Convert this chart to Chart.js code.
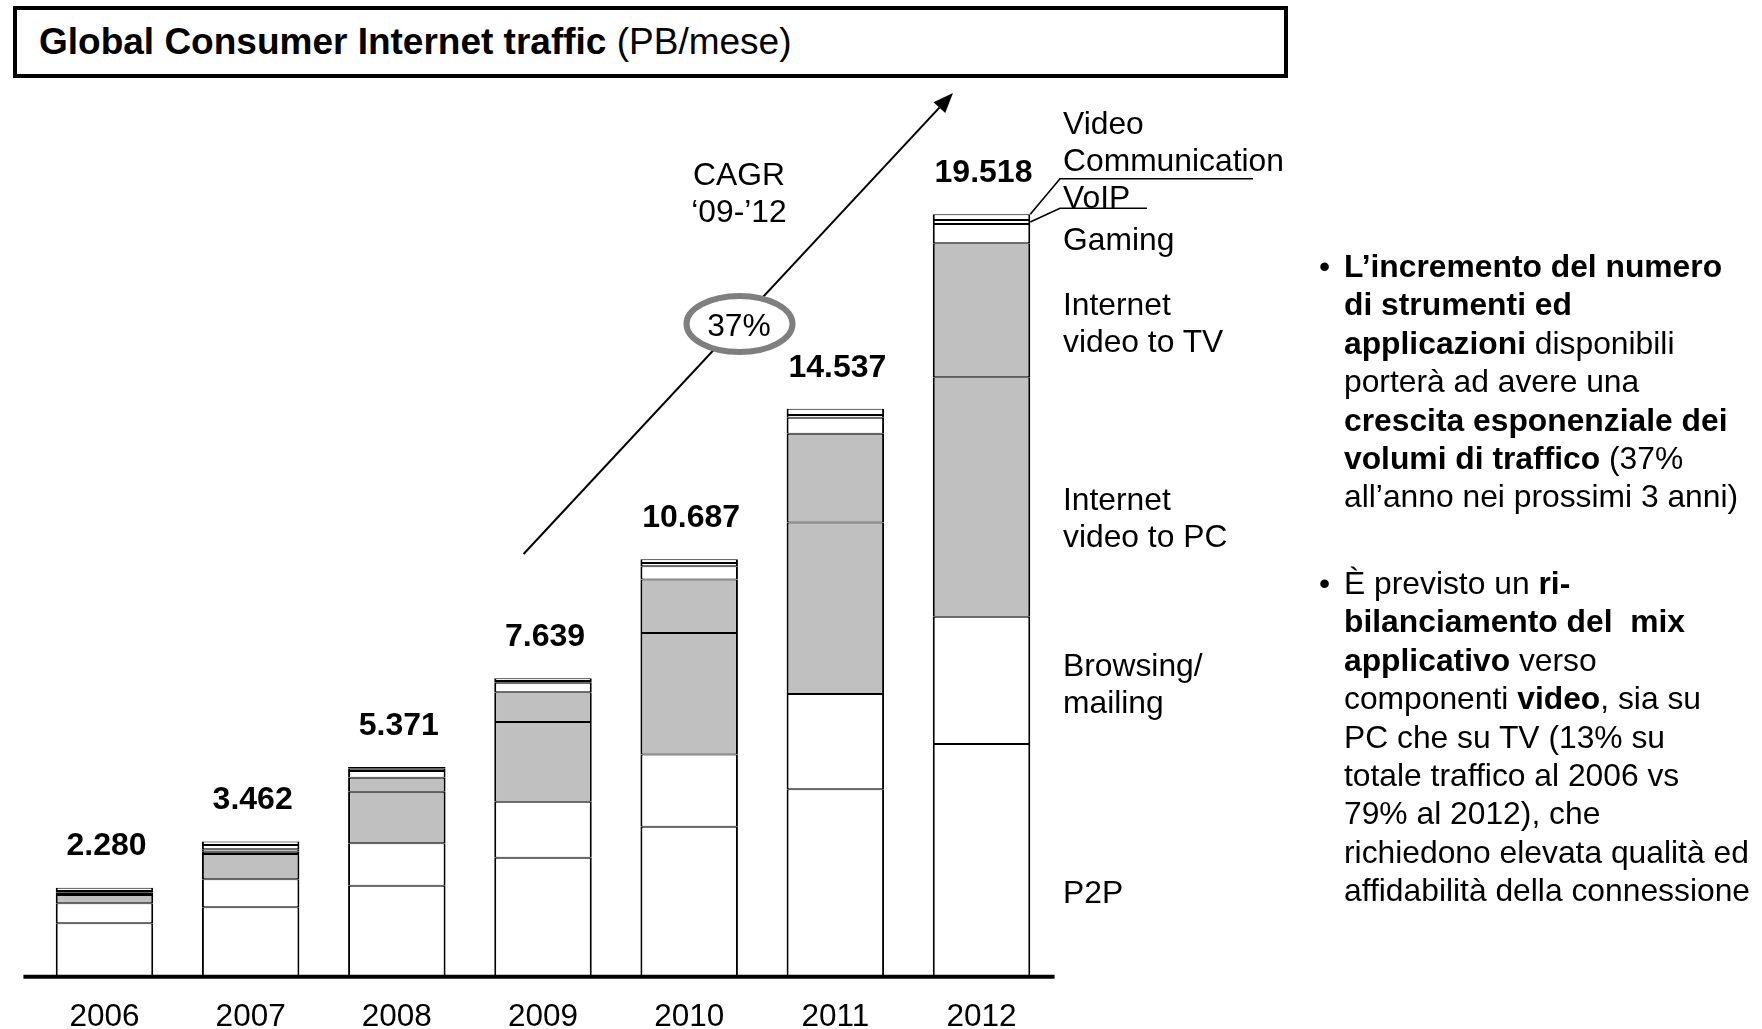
<!DOCTYPE html>
<html>
<head>
<meta charset="utf-8">
<script src="https://cdn.jsdelivr.net/npm/chart.js@4/dist/chart.umd.min.js"></script>
<style>
  html, body { margin:0; padding:0; background:#fff; }
  body { width:1762px; height:1029px; position:relative; overflow:hidden;
         font-family:"Liberation Sans", Arial, Helvetica, sans-serif; color:#000; }
  #c { position:absolute; left:0; top:0; }
  .abs { position:absolute; white-space:nowrap; }
  #titlebox { position:absolute; left:13px; top:6px; width:1275px; height:72px;
              border:4px solid #000; box-sizing:border-box; background:#fff; }
  #titlebox span.t { position:absolute; left:22px; top:0; line-height:64px; font-size:37px; }
  .seg { font-size:31.8px; line-height:37px; }
  .bul { font-size:31.8px; line-height:38.4px; }
  .dot { position:absolute; left:-25px; top:0; }
</style>
</head>
<body>
<canvas id="c" width="1762" height="1029"></canvas>

<div id="titlebox"><span class="t"><b>Global Consumer Internet traffic</b> (PB/mese)</span></div>

<div class="abs seg" style="left:1063px; top:105px;">Video<br>Communication</div>
<div class="abs seg" style="left:1063px; top:179px;">VoIP</div>
<div class="abs seg" style="left:1063px; top:221px;">Gaming</div>
<div class="abs seg" style="left:1063px; top:286px;">Internet<br>video to TV</div>
<div class="abs seg" style="left:1063px; top:481px;">Internet<br>video to PC</div>
<div class="abs seg" style="left:1063px; top:647px;">Browsing/<br>mailing</div>
<div class="abs seg" style="left:1063px; top:874px;">P2P</div>

<div class="abs seg" style="left:639px; width:200px; text-align:center; top:156px;">CAGR<br>‘09-’12</div>
<div class="abs seg" style="left:639px; width:200px; text-align:center; top:307px;">37%</div>

<div class="abs bul" style="left:1344px; top:247px;">
  <span class="dot">•</span>
  <b>L’incremento del numero</b><br>
  <b>di strumenti ed</b><br>
  <b>applicazioni</b> disponibili<br>
  porterà ad avere una<br>
  <b>crescita esponenziale dei</b><br>
  <b>volumi di traffico</b> (37%<br>
  all’anno nei prossimi 3 anni)
</div>

<div class="abs bul" style="left:1344px; top:564px;">
  <span class="dot">•</span>
  È previsto un <b>ri-</b><br>
  <b>bilanciamento del&nbsp; mix</b><br>
  <b>applicativo</b> verso<br>
  componenti <b>video</b>, sia su<br>
  PC che su TV (13% su<br>
  totale traffico al 2006 vs<br>
  79% al 2012), che<br>
  richiedono elevata qualità ed<br>
  affidabilità della connessione
</div>

<script>
// ---- data (PB/month) ----
const years      = ['2006','2007','2008','2009','2010','2011','2012'];
const p2p        = [1367, 1777, 2330, 3046, 3840, 4800, 5957];
const browsing   = [ 512,  717, 1085, 1434, 1850, 2440, 3259];
const videoPC    = [ 212,  648, 1321, 2040, 3110, 4390, 6129];
const videoTV    = [  26,   59,  358,  760, 1370, 2270, 3430];
const gaming     = [  33,   61,  172,  246,  340,  410,  494];
const voip       = [  44,  110,   60,   44,   80,   70,  102];
const videoComm  = [  86,   90,   45,   69,   97,  157,  147];
const totals     = [2280, 3462, 5371, 7639, 10687, 14537, 19518];

const FONT = '"Liberation Sans", Arial, Helvetica, sans-serif';
const WHITE = '#ffffff', GREY = '#c0c0c0';

function fmt(n){ return String(n).replace(/\B(?=(\d{3})+(?!\d))/g, '.'); }

const seriesDefs = [
  ['P2P', p2p, WHITE],
  ['Browsing/mailing', browsing, WHITE],
  ['Internet video to PC', videoPC, GREY],
  ['Internet video to TV', videoTV, GREY],
  ['Gaming', gaming, WHITE],
  ['VoIP', voip, WHITE],
  ['Video Communication', videoComm, WHITE]
];

const datasets = seriesDefs.map(([label, data, color]) => ({
  label, data,
  backgroundColor: color,
  borderColor: '#000',
  borderWidth: {top:1, bottom:1, left:2, right:2},
  borderSkipped: false,
  barPercentage: 0.667,
  categoryPercentage: 1.0
}));

const overlay = {
  id: 'overlay',
  afterDatasetsDraw(chart) {
    const ctx = chart.ctx;
    const xs = chart.scales.x, ys = chart.scales.y;
    const area = chart.chartArea;
    ctx.save();

    // baseline axis
    ctx.strokeStyle = '#000';
    ctx.lineWidth = 4;
    ctx.beginPath();
    ctx.moveTo(area.left - 8, ys.getPixelForValue(0));
    ctx.lineTo(area.right, ys.getPixelForValue(0));
    ctx.stroke();

    // totals above bars
    ctx.fillStyle = '#000';
    ctx.font = 'bold 32px ' + FONT;
    ctx.textAlign = 'center';
    ctx.textBaseline = 'middle';
    years.forEach((y, i) => {
      let sum = 0;
      seriesDefs.forEach(s => sum += s[1][i]);
      const px = xs.getPixelForValue(i);
      const py = ys.getPixelForValue(sum);
      ctx.fillText(fmt(totals[i]), px + 2, py - 41);
    });

    // leader lines for the top thin segments of the last bar
    const last = years.length - 1;
    const metaVC = chart.getDatasetMeta(6).data[last];
    const metaVoip = chart.getDatasetMeta(5).data[last];
    const right = metaVC.x + metaVC.width / 2;
    ctx.lineWidth = 1.6;
    ctx.beginPath();
    ctx.moveTo(right, metaVC.y);
    ctx.lineTo(1060, 178.7);
    ctx.lineTo(1253, 178.7);
    ctx.stroke();
    ctx.beginPath();
    ctx.moveTo(right, (metaVoip.y + metaVoip.base) / 2);
    ctx.lineTo(1060, 208.3);
    ctx.lineTo(1147, 208.3);
    ctx.stroke();

    // CAGR arrow
    const x0 = 523.6, y0 = 554, x1 = 953, y1 = 93;
    const ang = Math.atan2(y1 - y0, x1 - x0);
    const L = 20, W = 8;
    const bx = x1 - L * Math.cos(ang), by = y1 - L * Math.sin(ang);
    ctx.lineWidth = 2;
    ctx.beginPath();
    ctx.moveTo(x0, y0);
    ctx.lineTo(bx, by);
    ctx.stroke();
    ctx.beginPath();
    ctx.moveTo(x1, y1);
    ctx.lineTo(bx + W * Math.sin(ang), by - W * Math.cos(ang));
    ctx.lineTo(bx - W * Math.sin(ang), by + W * Math.cos(ang));
    ctx.closePath();
    ctx.fill();

    // ellipse
    ctx.beginPath();
    ctx.ellipse(739.5, 324, 53, 28, 0, 0, Math.PI * 2);
    ctx.fillStyle = '#fff';
    ctx.fill();
    ctx.strokeStyle = '#7f7f7f';
    ctx.lineWidth = 6;
    ctx.stroke();

    ctx.restore();
  }
};

new Chart(document.getElementById('c'), {
  type: 'bar',
  data: { labels: years, datasets },
  options: {
    responsive: false,
    animation: false,
    events: [],
    layout: { padding: { left: 31.4, right: 707.4, top: 117.3, bottom: 0 } },
    plugins: { legend: { display: false }, tooltip: { enabled: false } },
    scales: {
      x: {
        stacked: true,
        grid: { display: false, drawTicks: false },
        border: { display: false },
        ticks: { color: '#000', font: { family: FONT, size: 31.5 }, padding: 21.5, maxRotation: 0 },
        afterFit: (s) => { s.height = 52.3; }
      },
      y: { stacked: true, display: false, min: 0, max: 22000 }
    }
  },
  plugins: [overlay]
});
</script>
</body>
</html>
